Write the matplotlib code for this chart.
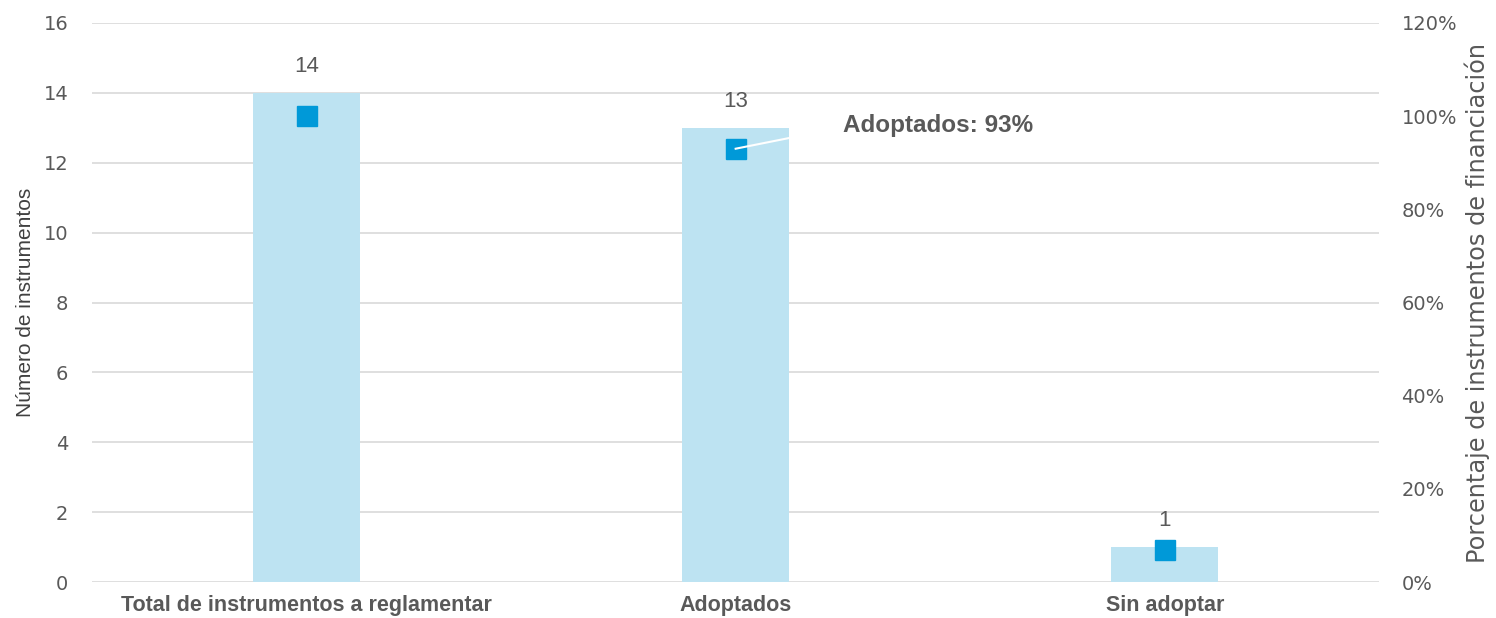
import numpy as np
import matplotlib.pyplot as plt

plt.rcParams['font.family'] = ['Liberation Sans', 'DejaVu Sans']

categorias = ['Total de instrumentos a reglamentar', 'Adoptados', 'Sin adoptar']
numero = [14, 13, 1]
porcentaje = [100, 93, 7]

gris = '#595959'
azul_claro = '#BDE3F2'
azul = '#0099D8'
num_font = 'DejaVu Sans'

fig = plt.figure(figsize=(14.96, 6.18), dpi=100)
ax = fig.add_axes([0.0615, 0.058, 0.8605, 0.905])
x = np.arange(len(categorias))

ax.bar(x, numero, width=0.25, color=azul_claro, zorder=2)
for xi, v in zip(x, numero):
    ax.text(xi, v + 0.75, str(v), ha='center', va='center', fontsize=16, color=gris)

ax.set_xlim(-0.5, 2.5)
ax.set_ylim(0, 16)
ax.set_yticks(np.arange(0, 17, 2))
ax.grid(axis='y', color='#D9D9D9', linewidth=1.2, zorder=0)
ax.set_axisbelow(True)
for s in ax.spines.values():
    s.set_visible(False)
ax.tick_params(axis='y', length=0, labelsize=14, colors=gris, pad=17)
for t in ax.get_yticklabels():
    t.set_family(num_font)
ax.tick_params(axis='x', length=0, pad=9)
ax.set_xticks(x)
ax.set_xticklabels(categorias, fontsize=15.5, fontweight='bold', color=gris)
ax.set_ylabel('Número de instrumentos', fontsize=15, color='#404040', labelpad=6)

ax2 = ax.twinx()
ax2.set_ylim(0, 120)
ax2.set_yticks(np.arange(0, 121, 20))
ax2.set_yticklabels([f'{t}%' for t in range(0, 121, 20)], family=num_font)
for s in ax2.spines.values():
    s.set_visible(False)
ax2.tick_params(axis='y', length=0, labelsize=14, colors=gris, pad=16)
ax2.set_ylabel('Porcentaje de instrumentos de financiación', fontsize=17.3, color=gris,
               labelpad=5, family=num_font)
ax2.plot(x, porcentaje, linestyle='none', marker='s', markersize=14, color=azul, zorder=3)

# leader line + label for the "Adoptados" point
ax2.plot([x[1], x[1] + 0.125], [porcentaje[1], 95.3], color='white', lw=1.5, zorder=4)
ax2.text(x[1] + 0.251, 98, 'Adoptados: 93%', fontsize=17.5, fontweight='bold',
         color=gris, va='center', ha='left')

fig.savefig('out.png', dpi=100)
